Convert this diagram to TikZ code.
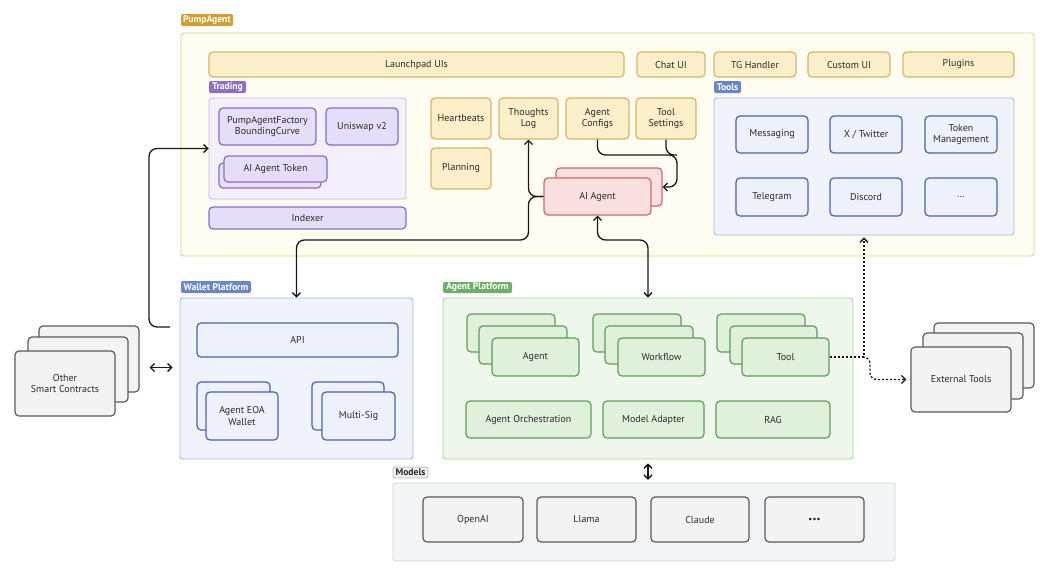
\documentclass[tikz,border=0pt]{standalone}
\usepackage{fontspec}
\setmainfont{PT Sans}
\usetikzlibrary{arrows.meta,calc}
\definecolor{pumpfill}{HTML}{FFFCF1}
\definecolor{pumpline}{HTML}{E8CC86}
\definecolor{pumptagc}{HTML}{D19E30}
\definecolor{yfill}{HTML}{FBEFC9}
\definecolor{yline}{HTML}{D6B667}
\definecolor{trfill}{HTML}{F3EFFB}
\definecolor{trline}{HTML}{C9BAEA}
\definecolor{trtag}{HTML}{8E6EC9}
\definecolor{pfill}{HTML}{E6DEF8}
\definecolor{pline}{HTML}{8A6CC6}
\definecolor{rfill}{HTML}{F9DFE0}
\definecolor{rline}{HTML}{C86A6D}
\definecolor{blfill}{HTML}{F0F3FB}
\definecolor{blline}{HTML}{A9B8DF}
\definecolor{bltag}{HTML}{6A86C9}
\definecolor{bfill}{HTML}{EEF1FB}
\definecolor{bline}{HTML}{4A63A9}
\definecolor{grfill}{HTML}{EFF7ED}
\definecolor{grline}{HTML}{AED3A9}
\definecolor{grtag}{HTML}{6FAE6A}
\definecolor{gfill}{HTML}{DFF0DB}
\definecolor{gline}{HTML}{5F9B5A}
\definecolor{mfill}{HTML}{F3F4F6}
\definecolor{mline}{HTML}{D3D6DB}
\definecolor{mtagfill}{HTML}{ECECEC}
\definecolor{mtagline}{HTML}{BBBBBB}
\definecolor{kfill}{HTML}{F3F3F4}
\definecolor{kline}{HTML}{5A5A5A}
\definecolor{txt}{HTML}{2B2B2B}
\newcommand\bx[7]{%
  \pgfmathsetmacro\bxw{(#4-#2)*0.75}%
  \pgfmathsetmacro\bxh{(#5-#3)*0.75}%
  \node[#6, minimum width=\bxw pt, minimum height=\bxh pt, anchor=center] (#1) at ({(#2+#4)/2},{(#3+#5)/2}) {#7};}
\tikzset{
  box/.style={draw, rounded corners=3pt, inner sep=0pt, line width=0.9pt, align=center,
    font=\fontsize{7.5}{8.6}\selectfont, text=txt},
  ybox/.style={box, fill=yfill, draw=yline},
  pbox/.style={box, fill=pfill, draw=pline},
  rbox/.style={box, fill=rfill, draw=rline},
  bbox/.style={box, fill=bfill, draw=bline},
  gbox/.style={box, fill=gfill, draw=gline},
  kbox/.style={box, fill=kfill, draw=kline},
  region/.style={draw, rounded corners=2pt, inner sep=0pt, line width=0.7pt},
  tag/.style={rounded corners=1.5pt, inner sep=0pt, font=\bfseries\fontsize{7.2}{7.5}\selectfont, text=white},
  conn/.style={line width=1pt, draw=black!90, >={Straight Barb[length=3pt,width=6pt]}},
  dotc/.style={conn, dash pattern=on 1.6pt off 1.4pt}
}
\begin{document}
\begin{tikzpicture}[x=0.75pt,y=-0.75pt]
\useasboundingbox[fill=white] (0,0) rectangle (1050,576);
% PumpAgent
\bx{pump}{181}{33}{1034}{256}{region, fill=pumpfill, draw=pumpline}{}
\bx{pumptag}{181}{14}{233}{26}{tag, fill=pumptagc}{PumpAgent}
\bx{launch}{209}{52}{624}{77}{ybox}{Launchpad UIs}
\bx{chat}{637}{52}{705}{77}{ybox}{Chat UI}
\bx{tg}{714}{52}{796}{77}{ybox}{TG Handler}
\bx{custom}{808}{52}{890}{77}{ybox}{Custom UI}
\bx{plugins}{903}{52}{1014}{77}{ybox}{Plugins}
% Trading
\bx{tradingtag}{209}{81}{246}{93}{tag, fill=trtag}{Trading}
\bx{trading}{209}{98}{406}{199}{region, fill=trfill, draw=trline}{}
\bx{factory}{219}{108}{316}{145}{pbox}{PumpAgentFactory\\BoundingCurve}
\bx{uniswap}{326}{108}{398}{145}{pbox}{Uniswap v2}
\bx{tokB}{219}{163}{321}{188}{pbox}{}
\bx{tokF}{224}{156}{327}{182}{pbox}{AI Agent Token}
\bx{indexer}{209}{207}{406}{229}{pbox}{Indexer}
% Agent core
\bx{heart}{431}{98}{491}{139}{ybox}{Heartbeats}
\bx{planning}{431}{148}{491}{189}{ybox}{Planning}
\bx{thoughts}{499}{98}{558}{139}{ybox}{Thoughts\\Log}
\bx{configs}{566}{98}{629}{139}{ybox}{Agent\\Configs}
\bx{toolset}{636}{98}{696}{139}{ybox}{Tool\\Settings}
\bx{aiB}{556}{168}{662}{206}{rbox}{}
\bx{aiF}{544}{178}{651}{215}{rbox}{AI Agent}
% Tools
\bx{toolstag}{714}{81}{741}{93}{tag, fill=bltag}{Tools}
\bx{toolsreg}{714}{98}{1014}{235}{region, fill=blfill, draw=blline}{}
\bx{messaging}{736}{116}{808}{153}{bbox}{Messaging}
\bx{twitter}{830}{116}{902}{153}{bbox}{X / Twitter}
\bx{tokmgmt}{925}{116}{997}{153}{bbox}{Token\\Management}
\bx{telegram}{736}{178}{808}{216}{bbox}{Telegram}
\bx{discord}{830}{178}{902}{216}{bbox}{Discord}
\bx{tmore}{925}{178}{997}{216}{bbox}{...}
% Wallet platform
\bx{wallettag}{181}{281}{251}{293}{tag, fill=bltag}{Wallet Platform}
\bx{wallet}{180}{298}{413}{459}{region, fill=blfill, draw=blline}{}
\bx{api}{197}{323}{398}{357}{bbox}{API}
\bx{eoaB}{197}{382}{270}{430}{bbox}{}
\bx{eoaF}{206}{392}{278}{440}{bbox}{Agent EOA\\Wallet}
\bx{msB}{312}{382}{384}{430}{bbox}{}
\bx{msF}{322}{392}{395}{440}{bbox}{Multi-Sig}
% Other smart contracts
\bx{oB}{39}{326}{139}{392}{kbox}{}
\bx{oM}{28}{337}{128}{402}{kbox}{}
\bx{oF}{15}{351}{115}{416}{kbox}{Other\\Smart Contracts}
% Agent platform
\bx{aptag}{443}{282}{512}{293}{tag, fill=grtag}{Agent Platform}
\bx{ap}{443}{298}{853}{459}{region, fill=grfill, draw=grline}{}
\bx{a1}{467}{314}{555}{352}{gbox}{}
\bx{a2}{479}{326}{567}{364}{gbox}{}
\bx{a3}{492}{338}{579}{376}{gbox}{Agent}
\bx{w1}{593}{314}{681}{352}{gbox}{}
\bx{w2}{605}{326}{693}{364}{gbox}{}
\bx{w3}{618}{338}{705}{376}{gbox}{Workflow}
\bx{t1}{717}{314}{805}{352}{gbox}{}
\bx{t2}{730}{326}{817}{364}{gbox}{}
\bx{t3}{742}{338}{829}{376}{gbox}{Tool}
\bx{orch}{466}{401}{591}{438}{gbox}{Agent Orchestration}
\bx{adapter}{603}{401}{704}{438}{gbox}{Model Adapter}
\bx{rag}{716}{401}{830}{438}{gbox}{RAG}
% External tools
\bx{eB}{934}{323}{1034}{388}{kbox}{}
\bx{eM}{923}{333}{1023}{399}{kbox}{}
\bx{eF}{911}{347}{1011}{412}{kbox}{External Tools}
% Models
\bx{modelstag}{393}{467}{428}{478}{tag, fill=mtagfill, draw=mtagline, line width=0.5pt, text=txt}{Models}
\bx{models}{393}{483}{895}{561}{region, fill=mfill, draw=mline}{}
\bx{openai}{423}{497}{523}{542}{kbox}{OpenAI}
\bx{llama}{537}{497}{636}{542}{kbox}{Llama}
\bx{claude}{651}{497}{749}{542}{kbox}{Claude}
\bx{mmore}{765}{497}{864}{542}{kbox, font=\bfseries\fontsize{12}{12}\selectfont}{...}
% Coordinates
\coordinate (busY) at (0,240);
\coordinate (cfgbus) at (677,155);
\coordinate (wstart) at (170,327);
\coordinate (wl) at (149,0);
\coordinate (j) at (t3.east -| toolsreg.south);
\coordinate (k) at (870,0);
% Connectors
\draw[conn,->,rounded corners=6] (aiF.west) -| (thoughts.south);
\draw[conn,->,rounded corners=6] (aiF.west) -| (thoughts.south |- busY) -| (wallet.north);
\draw[conn,rounded corners=6] (toolset.south) |- (cfgbus);
\draw[conn,->,rounded corners=6] (configs.south) |- (cfgbus) |- (aiB.east);
\draw[conn,<->,rounded corners=6] (aiF.south) |- (ap.north |- busY) -- (ap.north);
\draw[conn,->,rounded corners=6] (wstart) -| (wl |- trading.west) -- (trading.west);
\draw[conn,<->] ($(oB.east |- oM.center)+(10,-2)$) -- ($(wallet.west |- oM.center)+(-7,-2)$);
\draw[conn,<->,shorten <=3pt,shorten >=2pt] (ap.south) -- (ap.south |- models.north);
\draw[dotc,->,shorten >=1.5pt] (t3.east) -- (j) -- (toolsreg.south);
\draw[dotc,->,rounded corners=5,shorten >=3pt] (j) -| (k |- eF.west) -- (eF.west);
\end{tikzpicture}
\end{document}
